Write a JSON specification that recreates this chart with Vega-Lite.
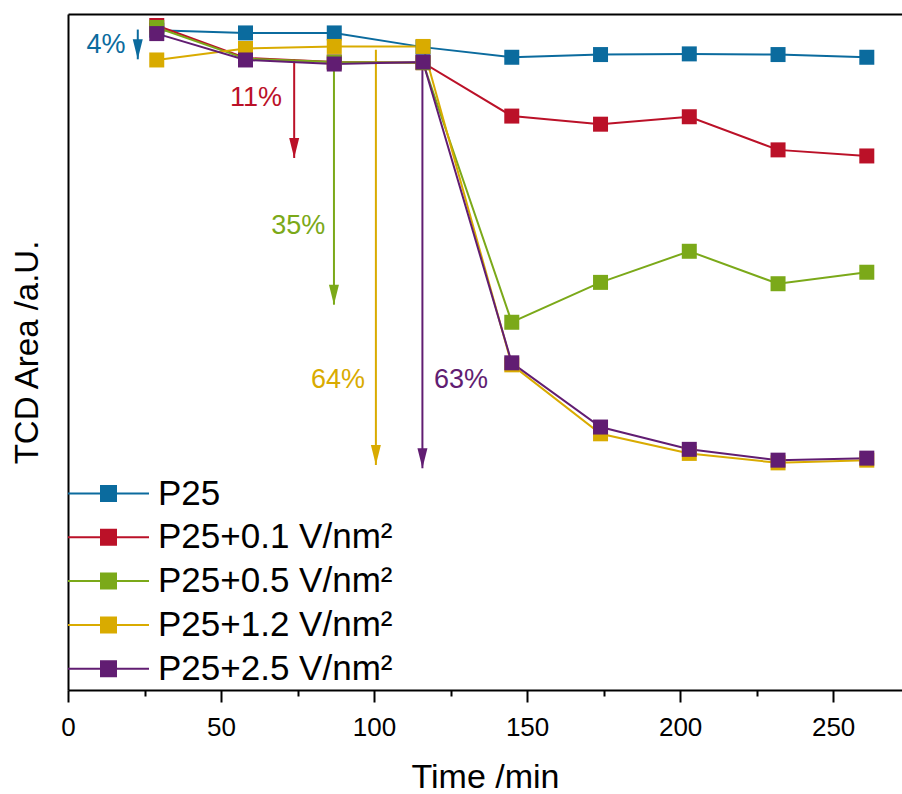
{
  "$schema": "https://vega.github.io/schema/vega-lite/v6.json",
  "width": 834,
  "height": 676,
  "autosize": "none",
  "padding": {"left": 68, "top": 14, "right": 0, "bottom": 104},
  "background": "white",
  "config": {
    "view": {"stroke": null},
    "font": "Liberation Sans",
    "axis": {
      "grid": false,
      "domainColor": "black",
      "domainWidth": 2,
      "tickColor": "black",
      "tickWidth": 2,
      "labelColor": "black",
      "titleColor": "black",
      "labelFont": "Liberation Sans",
      "titleFont": "Liberation Sans",
      "titleFontWeight": "normal"
    },
    "axisY": {"ticks": false, "labels": false, "titleFontSize": 33, "titlePadding": 24},
    "legend": {
      "orient": "none", "legendX": 23, "legendY": 462, "title": null,
      "symbolType": "M-5.4,0L-1,0M1,0L5.4,0M-1,-1L1,-1L1,1L-1,1Z",
      "symbolSize": 225, "symbolStrokeWidth": 2,
      "labelFontSize": 35, "labelFont": "Liberation Sans", "labelColor": "black",
      "labelOffset": 32, "rowPadding": 7.8, "padding": 0, "labelLimit": 400
    }
  },
  "datasets": {
    "series": [
      {"series": "P25", "t": 29, "v": 97.6},
      {"series": "P25", "t": 58, "v": 97.2},
      {"series": "P25", "t": 87, "v": 97.2},
      {"series": "P25", "t": 116, "v": 95.1},
      {"series": "P25", "t": 145, "v": 93.6},
      {"series": "P25", "t": 174, "v": 94.0},
      {"series": "P25", "t": 203, "v": 94.1},
      {"series": "P25", "t": 232, "v": 94.0},
      {"series": "P25", "t": 261, "v": 93.6},
      {"series": "P25+0.1 V/nm²", "t": 29, "v": 98.3},
      {"series": "P25+0.1 V/nm²", "t": 58, "v": 93.5},
      {"series": "P25+0.1 V/nm²", "t": 87, "v": 92.9},
      {"series": "P25+0.1 V/nm²", "t": 116, "v": 92.8},
      {"series": "P25+0.1 V/nm²", "t": 145, "v": 84.9},
      {"series": "P25+0.1 V/nm²", "t": 174, "v": 83.7},
      {"series": "P25+0.1 V/nm²", "t": 203, "v": 84.8},
      {"series": "P25+0.1 V/nm²", "t": 232, "v": 79.9},
      {"series": "P25+0.1 V/nm²", "t": 261, "v": 79.0},
      {"series": "P25+0.5 V/nm²", "t": 29, "v": 98.0},
      {"series": "P25+0.5 V/nm²", "t": 58, "v": 93.4},
      {"series": "P25+0.5 V/nm²", "t": 87, "v": 92.9},
      {"series": "P25+0.5 V/nm²", "t": 116, "v": 92.8},
      {"series": "P25+0.5 V/nm²", "t": 145, "v": 54.4},
      {"series": "P25+0.5 V/nm²", "t": 174, "v": 60.3},
      {"series": "P25+0.5 V/nm²", "t": 203, "v": 64.9},
      {"series": "P25+0.5 V/nm²", "t": 232, "v": 60.1},
      {"series": "P25+0.5 V/nm²", "t": 261, "v": 61.8},
      {"series": "P25+1.2 V/nm²", "t": 29, "v": 93.2},
      {"series": "P25+1.2 V/nm²", "t": 58, "v": 94.9},
      {"series": "P25+1.2 V/nm²", "t": 87, "v": 95.2},
      {"series": "P25+1.2 V/nm²", "t": 116, "v": 95.2},
      {"series": "P25+1.2 V/nm²", "t": 145, "v": 48.1},
      {"series": "P25+1.2 V/nm²", "t": 174, "v": 37.9},
      {"series": "P25+1.2 V/nm²", "t": 203, "v": 35.0},
      {"series": "P25+1.2 V/nm²", "t": 232, "v": 33.6},
      {"series": "P25+1.2 V/nm²", "t": 261, "v": 34.0},
      {"series": "P25+2.5 V/nm²", "t": 29, "v": 97.1},
      {"series": "P25+2.5 V/nm²", "t": 58, "v": 93.2},
      {"series": "P25+2.5 V/nm²", "t": 87, "v": 92.6},
      {"series": "P25+2.5 V/nm²", "t": 116, "v": 92.9},
      {"series": "P25+2.5 V/nm²", "t": 145, "v": 48.4},
      {"series": "P25+2.5 V/nm²", "t": 174, "v": 38.9},
      {"series": "P25+2.5 V/nm²", "t": 203, "v": 35.6},
      {"series": "P25+2.5 V/nm²", "t": 232, "v": 34.0},
      {"series": "P25+2.5 V/nm²", "t": 261, "v": 34.3}
    ],
    "arrows": [
      {"series": "P25", "t": 22.8, "v1": 97.7, "v2": 93.3},
      {"series": "P25+0.1 V/nm²", "t": 73.9, "v1": 93.3, "v2": 78.7},
      {"series": "P25+0.5 V/nm²", "t": 86.9, "v1": 92.9, "v2": 57.0},
      {"series": "P25+1.2 V/nm²", "t": 100.6, "v1": 94.7, "v2": 33.3},
      {"series": "P25+2.5 V/nm²", "t": 115.8, "v1": 92.9, "v2": 32.8}
    ],
    "labels": [
      {"series": "P25", "t": 12.4, "v": 95.4, "label": "4%"},
      {"series": "P25+0.1 V/nm²", "t": 61.4, "v": 87.6, "label": "11%"},
      {"series": "P25+0.5 V/nm²", "t": 75.2, "v": 68.7, "label": "35%"},
      {"series": "P25+1.2 V/nm²", "t": 88.2, "v": 45.9, "label": "64%"},
      {"series": "P25+2.5 V/nm²", "t": 128.4, "v": 45.9, "label": "63%"}
    ]
  },
  "resolve": {"axis": {"x": "independent"}},
  "layer": [
    {
      "data": {"name": "arrows"},
      "mark": {"type": "rule", "strokeWidth": 2},
      "encoding": {
        "x": {"field": "t", "type": "quantitative", "scale": {"domain": [0, 272.5], "nice": false},
              "axis": {"orient": "top", "domain": true, "ticks": false, "labels": false, "title": null}},
        "y": {"field": "v1", "type": "quantitative", "scale": {"domain": [0, 100], "nice": false}, "axis": {"title": "TCD Area /a.U."}},
        "y2": {"field": "v2"},
        "color": {"field": "series", "type": "nominal"}
      }
    },
    {
      "data": {"name": "arrows"},
      "mark": {"type": "point", "shape": "M-0.5,-2L0.5,-2L0,0Z", "size": 400, "filled": true, "opacity": 1, "strokeWidth": 0},
      "encoding": {
        "x": {"field": "t", "type": "quantitative", "axis": null},
        "y": {"field": "v2", "type": "quantitative", "axis": {"title": "TCD Area /a.U."}},
        "color": {"field": "series", "type": "nominal"}
      }
    },
    {
      "data": {"name": "labels"},
      "mark": {"type": "text", "fontSize": 27, "font": "Liberation Sans", "align": "center", "baseline": "middle"},
      "encoding": {
        "x": {"field": "t", "type": "quantitative", "axis": null},
        "y": {"field": "v", "type": "quantitative", "axis": {"title": "TCD Area /a.U."}},
        "text": {"field": "label"},
        "color": {"field": "series", "type": "nominal"}
      }
    },
    {
      "data": {"name": "series"},
      "mark": {"type": "line", "strokeWidth": 2},
      "encoding": {
        "x": {"field": "t", "type": "quantitative",
              "axis": {"orient": "bottom", "values": [0, 50, 100, 150, 200, 250], "tickSize": 12, "labelFontSize": 26, "labelPadding": 12, "format": "d", "labelFlush": false, "labelOverlap": false, "title": "Time /min", "titleFontSize": 34, "titlePadding": 20}},
        "y": {"field": "v", "type": "quantitative", "axis": {"title": "TCD Area /a.U."}},
        "color": {
          "field": "series", "type": "nominal",
          "scale": {
            "domain": ["P25", "P25+0.1 V/nm²", "P25+0.5 V/nm²", "P25+1.2 V/nm²", "P25+2.5 V/nm²"],
            "range": ["#0b6b9e", "#bb1128", "#7ba919", "#d9ab00", "#611d72"]
          },
          "legend": {
            "encode": {"symbols": {"update": {"fill": {"scale": "color", "field": "value"}, "stroke": {"scale": "color", "field": "value"}, "opacity": {"value": 1}}}}
          }
        }
      }
    },
    {
      "data": {"name": "series"},
      "mark": {"type": "point", "shape": "square", "size": 225, "filled": true, "opacity": 1, "strokeWidth": 0},
      "encoding": {
        "x": {"field": "t", "type": "quantitative",
              "axis": {"orient": "bottom", "values": [25, 75, 125, 175, 225], "tickSize": 6, "labels": false, "domain": false, "title": null}},
        "y": {"field": "v", "type": "quantitative", "axis": {"title": "TCD Area /a.U."}},
        "color": {"field": "series", "type": "nominal"}
      }
    }
  ]
}
